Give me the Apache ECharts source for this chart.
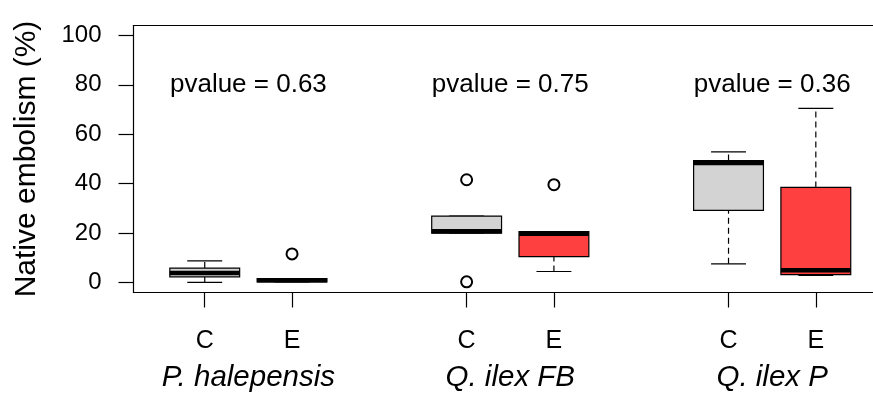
<!DOCTYPE html>
<html>
<head>
<meta charset="utf-8">
<script src="https://cdn.jsdelivr.net/npm/echarts@6/dist/echarts.min.js"></script>
<style>
  html, body { margin: 0; padding: 0; background: #fff; }
  #chart { width: 873px; height: 394px; }
</style>
</head>
<body>
<div id="chart"></div>
<script>
// box positions and treatment labels
const boxX = [1, 2, 4, 5, 7, 8]
const boxLabels = ['C', 'E', 'C', 'E', 'C', 'E']
// five-number summaries (%)
const boxLow = [0.1, 0.3, 20.0, 4.5, 7.6, 2.9]
const boxQ1 = [2.3, 0.3, 20.0, 10.5, 29.2, 3.2]
const boxMed = [3.9, 1.0, 20.8, 19.8, 48.4, 5.0]
const boxQ3 = [5.9, 1.6, 26.9, 20.6, 49.4, 38.5]
const boxHigh = [8.8, 1.6, 26.9, 20.6, 52.9, 70.5]
const boxFill = ['#D3D3D3', '#FF4040', '#D3D3D3', '#FF4040', '#D3D3D3', '#FF4040']
// outliers
const outlierX = [2, 4, 4, 5]
const outlierY = [11.6, 41.6, 0.3, 39.6]
// species groups
const groupX = [1.5, 4.5, 7.5]
const groupNames = ['P. halepensis', 'Q. ilex FB', 'Q. ilex P']
const pvalueY = [80, 80, 80]
const pvalueText = ['pvalue = 0.63', 'pvalue = 0.75', 'pvalue = 0.36']
const yTicks = [0, 20, 40, 60, 80, 100]

const font = 'Liberation Sans, Arial, sans-serif'
const xMin = 0.184
const xMax = 8.655

let chart = echarts.init(document.getElementById('chart'))

function renderBox (params, api) {
  let x = api.value(0)
  let lo = api.coord([x, api.value(1)])
  let q1 = api.coord([x, api.value(2)])
  let md = api.coord([x, api.value(3)])
  let q3 = api.coord([x, api.value(4)])
  let hi = api.coord([x, api.value(5)])
  let half = api.size([0.8, 0])[0] / 2
  let cap = half / 2
  let cx = lo[0]
  let thin = { stroke: '#000', lineWidth: 1.2 }
  let dashed = { stroke: '#000', lineWidth: 1.2, lineDash: [6, 4] }
  return {
    type: 'group',
    children: [
      { type: 'line', shape: { x1: cx, y1: q3[1], x2: cx, y2: hi[1] }, style: dashed },
      { type: 'line', shape: { x1: cx, y1: lo[1], x2: cx, y2: q1[1] }, style: dashed },
      { type: 'line', shape: { x1: cx - cap, y1: hi[1], x2: cx + cap, y2: hi[1] }, style: thin },
      { type: 'line', shape: { x1: cx - cap, y1: lo[1], x2: cx + cap, y2: lo[1] }, style: thin },
      {
        type: 'rect',
        shape: { x: cx - half, y: q3[1], width: half * 2, height: q1[1] - q3[1] },
        style: { fill: boxFill[params.dataIndex], stroke: '#000', lineWidth: 1.2 }
      },
      { type: 'line', shape: { x1: cx - half, y1: md[1], x2: cx + half, y2: md[1] }, style: { stroke: '#000', lineWidth: 4.5 } }
    ]
  }
}

let frameLine = { show: true, onZero: false, lineStyle: { color: '#000', width: 1.2 } }

let option = {
  backgroundColor: '#ffffff',
  animation: false,
  grid: {
    left: 133.5,
    right: 0,
    top: 25.5,
    bottom: 101.5,
    show: false
  },
  xAxis: [{
    type: 'value',
    min: xMin,
    max: xMax,
    position: 'bottom',
    splitLine: { show: false },
    axisLine: frameLine,
    axisTick: { show: true, customValues: boxX, length: 15, lineStyle: { color: '#000', width: 1.2 } },
    axisLabel: {
      customValues: boxX,
      margin: 36,
      fontSize: 25,
      fontFamily: font,
      color: '#000',
      formatter: function (v) { return boxLabels[boxX.indexOf(v)] }
    }
  }, {
    type: 'value',
    min: xMin,
    max: xMax,
    position: 'bottom',
    splitLine: { show: false },
    axisLine: { show: false },
    axisTick: { show: false },
    axisLabel: {
      customValues: groupX,
      margin: 70,
      fontSize: 29.5,
      fontStyle: 'italic',
      fontFamily: font,
      color: '#000',
      formatter: function (v) { return groupNames[groupX.indexOf(v)] }
    }
  }, {
    type: 'value',
    min: xMin,
    max: xMax,
    position: 'top',
    splitLine: { show: false },
    axisLine: frameLine,
    axisTick: { show: false },
    axisLabel: { show: false }
  }],
  yAxis: {
    type: 'value',
    min: -4,
    max: 104,
    name: 'Native embolism (%)',
    nameLocation: 'middle',
    nameGap: 92,
    nameTextStyle: { fontSize: 30, fontFamily: font, color: '#000' },
    splitLine: { show: false },
    axisLine: frameLine,
    axisTick: { show: true, customValues: yTicks, length: 15, lineStyle: { color: '#000', width: 1.2 } },
    axisLabel: { customValues: yTicks, margin: 32, fontSize: 24, fontFamily: font, color: '#000' }
  },
  series: [
    {
      type: 'custom',
      renderItem: renderBox,
      encode: { x: 0, y: [1, 2, 3, 4, 5] },
      data: boxX.map((x, i) => [x, boxLow[i], boxQ1[i], boxMed[i], boxQ3[i], boxHigh[i]])
    },
    {
      type: 'scatter',
      symbol: 'emptyCircle',
      symbolSize: 11,
      itemStyle: { color: '#000', borderWidth: 1.3, opacity: 1 },
      data: outlierX.map((x, i) => [x, outlierY[i]])
    },
    {
      type: 'scatter',
      symbolSize: 0,
      itemStyle: { color: '#000', opacity: 1 },
      label: {
        show: true,
        position: 'inside',
        fontSize: 26,
        fontFamily: font,
        color: '#000',
        opacity: 1,
        textBorderWidth: 0,
        formatter: function (p) { return pvalueText[p.dataIndex] }
      },
      data: groupX.map((x, i) => [x, pvalueY[i]])
    }
  ]
}
chart.setOption(option)
</script>
</body>
</html>
